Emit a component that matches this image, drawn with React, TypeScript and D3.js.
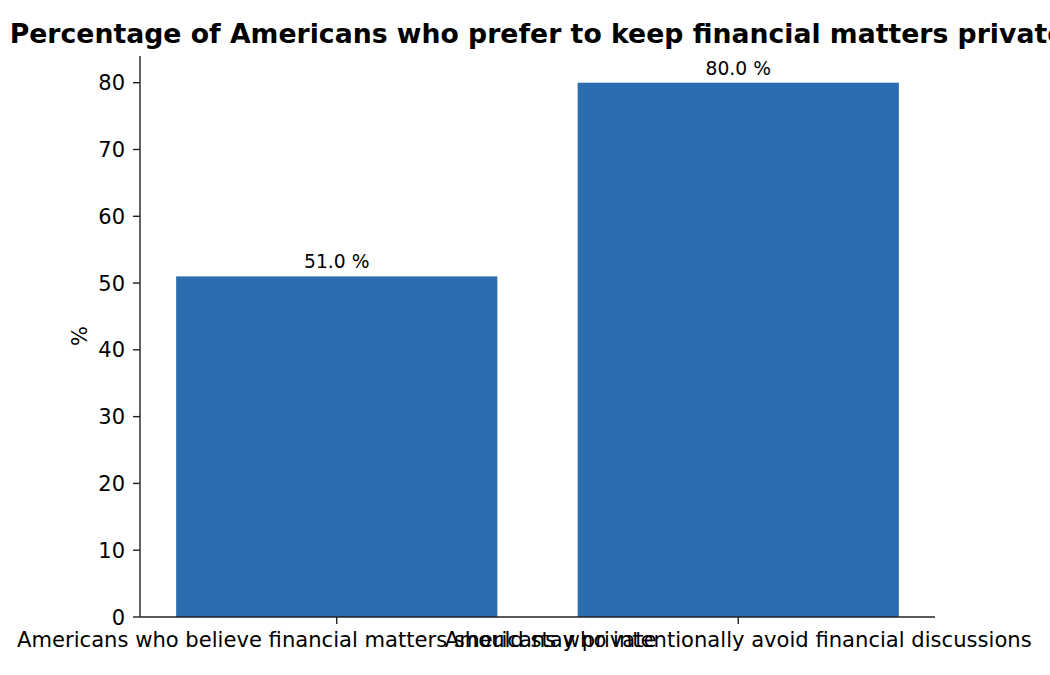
import React from "react";
import * as d3 from "d3";

const categories = [
  "Americans who believe financial matters should stay private",
  "Americans who intentionally avoid financial discussions",
];
const values = [51.0, 80.0];
const yTicks = [0, 10, 20, 30, 40, 50, 60, 70, 80];
const title = "Percentage of Americans who prefer to keep financial matters private";

export default function App() {
  const W = 1050, H = 675;
  const left = 140, right = 935, top = 56, bottom = 617;
  const x = d3.scaleLinear().domain([-0.49, 1.49]).range([left, right]);
  const y = d3.scaleLinear().domain([0, 84]).range([bottom, top]);
  const bw = x(0.4) - x(-0.4);
  const font = "DejaVu Sans, sans-serif";
  return (
    <svg width={W} height={H} style={{ position: "absolute", left: 0, top: 0, background: "#fff" }} fontFamily={font}>
      <text x={(left + right) / 2} y={43} textAnchor="middle" fontSize={26.7} fontWeight="bold" fill="#000">{title}</text>
      {values.map((v, i) => (
        <g key={i}>
          <rect x={x(i) - bw / 2} y={y(v)} width={bw} height={y(0) - y(v)} fill="#2c6db0" />
          <text x={x(i)} y={y(v) - 8} textAnchor="middle" fontSize={18.7} fill="#000">{v.toFixed(1)} %</text>
        </g>
      ))}
      <line x1={left} x2={left} y1={top} y2={bottom} stroke="#222" strokeWidth={1.4} />
      <line x1={left} x2={right} y1={bottom} y2={bottom} stroke="#222" strokeWidth={1.4} />
      {yTicks.map((t) => (
        <g key={t}>
          <line x1={left - 7} x2={left} y1={y(t)} y2={y(t)} stroke="#222" strokeWidth={1.4} />
          <text x={left - 15} y={y(t)} dy="0.36em" textAnchor="end" fontSize={21} fill="#000">{t}</text>
        </g>
      ))}
      {categories.map((c, i) => (
        <g key={i}>
          <line x1={x(i)} x2={x(i)} y1={bottom} y2={bottom + 7} stroke="#222" strokeWidth={1.4} />
          <text x={x(i)} y={647} textAnchor="middle" fontSize={21.1} fill="#000">{c}</text>
        </g>
      ))}
      <text transform={`translate(87,336) rotate(-90)`} textAnchor="middle" fontSize={21} fill="#000">%</text>
    </svg>
  );
}
